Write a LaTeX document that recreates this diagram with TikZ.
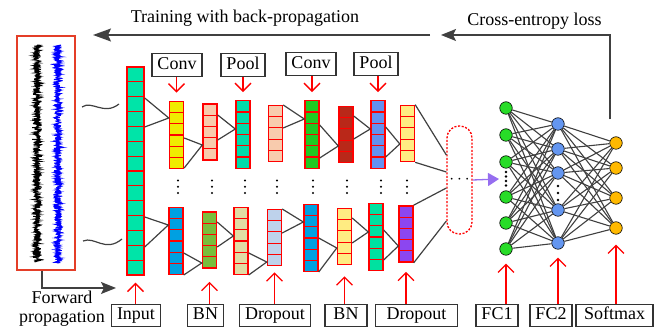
\documentclass[tikz,border=0pt]{standalone}
\usepackage{fontspec}
\setmainfont{Liberation Serif}
\usetikzlibrary{arrows.meta,calc}

\definecolor{cline}{RGB}{64,64,64}
\definecolor{sigred}{RGB}{228,62,40}
\definecolor{cinput}{RGB}{0,228,168}
\definecolor{cyel}{RGB}{240,236,0}
\definecolor{cpeach}{RGB}{248,203,173}
\definecolor{cteal}{RGB}{0,220,170}
\definecolor{cgreen}{RGB}{34,200,34}
\definecolor{cdark}{RGB}{185,40,25}
\definecolor{cblue}{RGB}{100,145,240}
\definecolor{clyel}{RGB}{255,236,130}
\definecolor{cbconv}{RGB}{0,160,225}
\definecolor{cbgreen}{RGB}{120,190,60}
\definecolor{ckhaki}{RGB}{225,220,165}
\definecolor{clblue}{RGB}{190,210,235}
\definecolor{cbteal}{RGB}{0,225,160}
\definecolor{cpurple}{RGB}{140,70,240}
\definecolor{fcgreen}{RGB}{40,220,40}
\definecolor{fcblue}{RGB}{100,150,240}
\definecolor{fcorange}{RGB}{255,185,0}
\definecolor{cviolet}{RGB}{150,110,240}

\begin{document}
\begin{tikzpicture}[x=1pt, y=-1pt, font=\fontsize{18}{19}\selectfont,
  >={Stealth[length=15pt,width=12pt,inset=3pt]},
  fmap/.style 2 args={draw=red, line width=1.4pt, fill=#1, inner sep=0pt,
    minimum width=14pt, minimum height=#2*11.25pt,
    path picture={\foreach \k in {1,...,#2}
      \draw[red, line width=1.2pt]
        ($(path picture bounding box.north west)!\k/#2!(path picture bounding box.south west)$) --
        ($(path picture bounding box.north east)!\k/#2!(path picture bounding box.south east)$);}},
  lbl/.style={draw=black!80, line width=1.1pt, inner xsep=5.5pt, inner ysep=3pt,
    text height=12.5pt, text depth=4pt},
  pointer/.style={red, line width=1.3pt, -{Straight Barb[length=8pt,width=16pt]}},
  link/.style={draw=cline, line width=1.2pt},
  gflow/.style={draw=cline, line width=1.4pt, ->},
  neuron/.style={circle, draw=black, fill=#1, minimum size=12.5pt, inner sep=0pt, line width=0.6pt}]
\useasboundingbox (0,0) rectangle (665,328);

% signals
\node[draw=sigred, line width=1.2pt, minimum width=58pt, minimum height=234pt, inner sep=0pt] (sig) at (46,153) {};
\pgfmathsetseed{42}
\draw[black, line width=0.9pt] plot[samples=700, domain=45:262, variable=\t] ({37+(2.5+2.5*rnd)*rand}, \t);
\draw[blue, line width=0.9pt] plot[samples=700, domain=45:263, variable=\t] ({58+(2.5+2.5*rnd)*rand}, \t);
\draw[cline, line width=1.2pt] (82,107) .. controls (92,100) and (104,116) .. (119,104);
\draw[cline, line width=1.2pt] (83,241) .. controls (95,236) and (105,253) .. (122,239);

\node[fmap={cinput}{14}, minimum width=17pt, minimum height=208pt] (in) at (135.5,171) {};

\node[fmap={cyel}{6}] (t1) at (176.5,135) {};
\node[fmap={cpeach}{5}] (t2) at (210,132) {};
\node[fmap={cteal}{6}] (t3) at (243,134.5) {};
\node[fmap={cpeach}{5}] (t4) at (275.5,133.5) {};
\node[fmap={cgreen}{6}] (t5) at (312,134.5) {};
\node[fmap={cdark}{5}] (t6) at (346,134.5) {};
\node[fmap={cblue}{6}] (t7) at (378,134.5) {};
\node[fmap={clyel}{5}] (t8) at (407.5,133.5) {};

\node[fmap={cbconv}{6}] (b1) at (176,241) {};
\node[fmap={cbgreen}{5}] (b2) at (209.5,240) {};
\node[fmap={ckhaki}{6}] (b3) at (241,241) {};
\node[fmap={clblue}{5}] (b4) at (274.5,237.5) {};
\node[fmap={cbconv}{6}] (b5) at (311,238) {};
\node[fmap={clyel}{5}] (b6) at (344.5,236.5) {};
\node[fmap={cbteal}{6}] (b7) at (376,237) {};
\node[fmap={cpurple}{5}] (b8) at (406,234) {};

\foreach \x in {178,212,245,277,313,347,381,407}
  \foreach \y in {180.5,186.8,193}
    \fill (\x,\y) circle (1.2pt);

\draw [link] (in.east |- 0,98) -- (t1.west |- 0,118) -- (in.east |- 0,127);
\draw [link] (t1.east |- 0,138) -- (t2.west |- 0,145) -- (t1.east |- 0,168);
\draw [link] (t2.east |- 0,115) -- (t3.west |- 0,129) -- (t2.east |- 0,140);
\draw [link] (t4.east |- 0,105) -- (t5.west |- 0,119) -- (t4.east |- 0,128);
\draw [link] (t5.east |- 0,125) -- (t6.west |- 0,146) -- (t5.east |- 0,158);
\draw [link] (t6.east |- 0,116) -- (t7.west |- 0,129) -- (t6.east |- 0,139);
\draw [link] (t7.east |- 0,127) -- (t8.west |- 0,144) -- (t7.east |- 0,157);
\draw [link] (in.east |- 0,217) -- (b1.west |- 0,225) -- (in.east |- 0,247);
\draw [link] (b1.east |- 0,253) -- (b2.west |- 0,263) -- (b1.east |- 0,275);
\draw [link] (b2.east |- 0,222) -- (b3.west |- 0,236) -- (b2.east |- 0,247);
\draw [link] (b3.east |- 0,253) -- (b4.west |- 0,262) -- (b3.east |- 0,275);
\draw [link] (b4.east |- 0,209) -- (b5.west |- 0,222) -- (b4.east |- 0,233);
\draw [link] (b5.east |- 0,238) -- (b6.west |- 0,248) -- (b5.east |- 0,272);
\draw [link] (b6.east |- 0,218) -- (b7.west |- 0,232) -- (b6.east |- 0,243);
\draw [link] (b7.east |- 0,230) -- (b8.west |- 0,246) -- (b7.east |- 0,260);

\node[draw=red, line width=1.3pt, dash pattern=on 2pt off 1.6pt, rounded corners=12pt,
  minimum width=25pt, minimum height=108pt, inner sep=0pt] (ell) at (459.5,180) {$\cdots$};
\draw [link] (t8.north east) -- (ell.west |- 0,155);
\draw [link] (t8.south east) -- (ell.west |- 0,172);
\draw [link] (b8.north east) -- (ell.west |- 0,188);
\draw [link] (b8.south east) -- (ell.west |- 0,221);

\node[neuron=fcgreen] (f1) at (506,108) {};
\node[neuron=fcgreen] (f2) at (506,135) {};
\node[neuron=fcgreen] (f3) at (506,162) {};
\node[neuron=fcgreen] (f4) at (506,197) {};
\node[neuron=fcgreen] (f5) at (506,223) {};
\node[neuron=fcgreen] (f6) at (506,249) {};
\node[neuron=fcblue] (g1) at (558,124) {};
\node[neuron=fcblue] (g2) at (558,149) {};
\node[neuron=fcblue] (g3) at (558,173) {};
\node[neuron=fcblue] (g4) at (558,210) {};
\node[neuron=fcblue] (g5) at (558,243) {};
\node[neuron=fcorange] (s1) at (616,143) {};
\node[neuron=fcorange] (s2) at (616,168) {};
\node[neuron=fcorange] (s3) at (616,198) {};
\node[neuron=fcorange] (s4) at (616,228) {};
\foreach \i in {1,...,6}
  \foreach \j in {1,...,5}
    \draw [link, line width=1.1pt] (f\i) -- (g\j);
\foreach \i in {1,...,5}
  \foreach \j in {1,...,4}
    \draw [link, line width=1.1pt] (g\i) -- (s\j);
\foreach \y in {172,176.5,181,185.5}
  \fill (506,\y) circle (1.3pt);
\foreach \y in {186,193,200}
  \fill (558,\y) circle (1.3pt);

\coordinate (fcin) at (499,179);
\draw [cviolet, line width=1.3pt, -{Triangle[length=11pt,width=13pt]}] (ell.east) -- (fcin);

% labels
\node[lbl] (lconva) at (177,65) {Conv};
\node[lbl] (lpoola) at (243,65) {Pool};
\node[lbl] (lconvb) at (311,64) {Conv};
\node[lbl] (lpoolb) at (376,64) {Pool};
\draw [pointer] (lconva.south -| t1) -- ([yshift=8pt]t1.north);
\draw [pointer] (lpoola.south -| t3) -- ([yshift=8pt]t3.north);
\draw [pointer] (lconvb.south -| t5) -- ([yshift=8pt]t5.north);
\draw [pointer] (lpoolb.south -| t7) -- ([yshift=8pt]t7.north);

\node[lbl] (lin) at (136,315.5) {Input};
\node[lbl] (lbna) at (205.5,315.5) {BN};
\node[lbl] (ldropa) at (275,315.5) {Dropout};
\node[lbl, minimum width=42pt] (lbnb) at (346,315.5) {BN};
\node[lbl, minimum width=82pt] (ldropb) at (416.5,315.5) {Dropout};
\node[lbl] (lfca) at (497,315.5) {FC1};
\node[lbl] (lfcb) at (551,315.5) {FC2};
\node[lbl, minimum width=77pt] (lsoft) at (614.5,315.5) {Softmax};
\draw [pointer] (lin.north -| in) -- ([yshift=-7pt]in.south);
\draw [pointer] (lbna.north -| b2) -- ([yshift=-13pt]b2.south);
\draw [pointer] (ldropa.north -| b4) -- ([yshift=-6pt]b4.south);
\draw [pointer] (lbnb.north -| b6) -- ([yshift=-11pt]b6.south);
\draw [pointer] (ldropb.north -| b8) -- ([yshift=-9pt]b8.south);
\draw [pointer] (lfca.north -| f6) -- ([yshift=-8pt]f6.south);
\draw [pointer] (lfcb.north -| g5) -- ([yshift=-8pt]g5.south);
\draw [pointer] (lsoft.north -| s4) -- ([yshift=-10pt]s4.south);

% propagation arrows
\node (bptxt) at (245,18) {Training with back-propagation};
\coordinate (bpstart) at (430,35);
\coordinate (bpend) at (93,35);
\draw [gflow, -{Stealth[length=18pt,width=13pt,inset=3pt]}] (bpstart) -- (bpend);
\node (cetxt) at (534.5,21) {Cross-entropy loss};
\coordinate (ceend) at (441,35);
\draw [gflow] ([xshift=-6pt,yshift=17pt]s1.north) |- (ceend);
\node[align=center] (fwdtxt) at (62,308.5) {Forward\\propagation};
\coordinate (fwdend) at (116,288);
\draw [gflow] ([xshift=-4pt]sig.south) |- (fwdend);
\end{tikzpicture}
\end{document}
